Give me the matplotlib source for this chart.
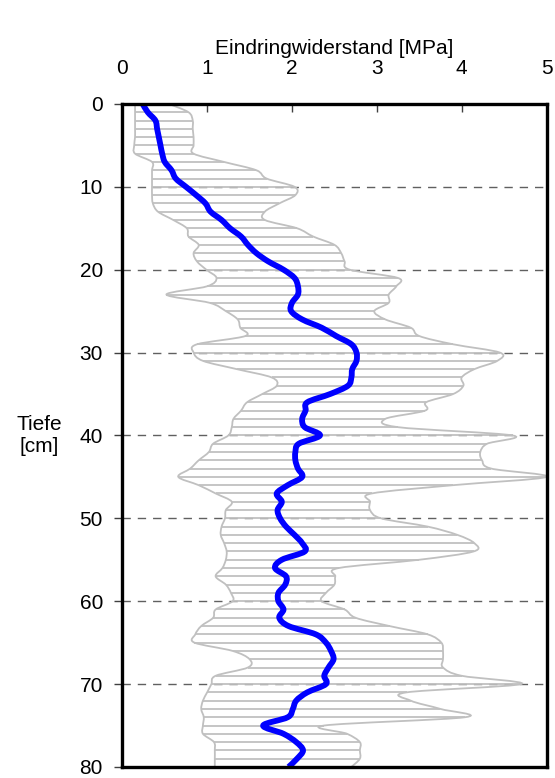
import numpy as np
import matplotlib
matplotlib.use("Agg")
import matplotlib.pyplot as plt
from matplotlib.path import Path
from matplotlib.patches import PathPatch

plt.rcParams['font.family'] = ['Liberation Sans', 'DejaVu Sans']

# Depth below surface [cm], one reading per centimetre
depth = np.arange(0, 81)

# Mean penetration resistance [MPa]
mean_resistance = [
    0.24, 0.30, 0.39, 0.41, 0.43, 0.45, 0.47, 0.50, 0.58, 0.63,
    0.75, 0.87, 0.98, 1.04, 1.17, 1.27, 1.40, 1.48, 1.58, 1.72,
    1.90, 2.03, 2.07, 2.07, 2.00, 1.99, 2.12, 2.35, 2.52, 2.70,
    2.76, 2.76, 2.71, 2.70, 2.66, 2.45, 2.18, 2.16, 2.12, 2.15,
    2.33, 2.08, 2.04, 2.04, 2.07, 2.12, 1.95, 1.82, 1.88, 1.83,
    1.86, 1.93, 2.03, 2.12, 2.15, 1.88, 1.80, 1.93, 1.92, 1.84,
    1.84, 1.90, 1.85, 1.96, 2.28, 2.40, 2.46, 2.49, 2.43, 2.38,
    2.40, 2.18, 2.05, 2.01, 1.95, 1.66, 1.90, 2.05, 2.13, 2.06,
    1.96,
]

# Lowest single reading per depth [MPa]
min_resistance = [
    0.15, 0.15, 0.15, 0.15, 0.15, 0.14, 0.15, 0.35, 0.35, 0.35,
    0.35, 0.35, 0.36, 0.42, 0.60, 0.76, 0.78, 0.90, 0.84, 0.88,
    0.99, 1.11, 1.00, 0.52, 1.03, 1.22, 1.36, 1.39, 1.45, 0.88,
    0.84, 0.95, 1.35, 1.76, 1.82, 1.65, 1.47, 1.40, 1.31, 1.29,
    1.25, 1.07, 1.02, 0.90, 0.80, 0.66, 0.90, 1.10, 1.29, 1.22,
    1.21, 1.17, 1.16, 1.20, 1.23, 1.22, 1.18, 1.10, 1.22, 1.28,
    1.30, 1.10, 1.07, 0.93, 0.86, 0.85, 1.30, 1.50, 1.48, 1.10,
    1.05, 1.00, 0.95, 0.93, 0.96, 0.95, 0.95, 1.08, 1.09, 1.09,
    1.09,
]

# Highest single reading per depth [MPa]
max_resistance = [
    0.55, 0.78, 0.83, 0.83, 0.84, 0.84, 0.84, 1.20, 1.58, 1.70,
    2.03, 2.04, 1.85, 1.68, 1.68, 2.06, 2.25, 2.50, 2.58, 2.62,
    2.68, 3.25, 3.23, 3.14, 3.14, 2.97, 3.10, 3.40, 3.50, 3.90,
    4.45, 4.42, 4.15, 4.00, 4.02, 3.90, 3.58, 3.57, 3.10, 3.25,
    4.60, 4.30, 4.22, 4.24, 4.35, 5.00, 3.90, 2.94, 2.92, 2.92,
    3.05, 3.60, 3.95, 4.15, 4.14, 3.50, 2.55, 2.51, 2.50, 2.40,
    2.35, 2.62, 2.75, 3.15, 3.60, 3.76, 3.78, 3.78, 3.78, 4.00,
    4.70, 3.35, 3.40, 3.75, 4.04, 2.38, 2.65, 2.80, 2.80, 2.80,
    2.70,
]

x_ticks = [0, 1, 2, 3, 4, 5]
y_ticks = [0, 10, 20, 30, 40, 50, 60, 70, 80]
grid_depths = [10, 20, 30, 40, 50, 60, 70]


def smooth_path(xs, ys):
    """Cubic Bezier path passing through every (x, y) point (Catmull-Rom style)."""
    p = np.column_stack([xs, ys]).astype(float)
    n = len(p)
    verts = [p[0]]
    codes = [Path.MOVETO]
    for i in range(n - 1):
        p0 = p[i - 1] if i > 0 else p[i]
        p1 = p[i]
        p2 = p[i + 1]
        p3 = p[i + 2] if i + 2 < n else p[i + 1]
        c1 = p1 + (p2 - p0) / 6.0
        c2 = p2 - (p3 - p1) / 6.0
        verts += [c1, c2, p2]
        codes += [Path.CURVE4] * 3
    return Path(verts, codes)


fig = plt.figure(figsize=(5.55, 7.78), dpi=100)
ax = fig.add_axes([0.2204, 0.0142, 0.7643, 0.8522])

gray = '#C0C0C0'
for g in grid_depths:
    ax.axhline(g, color='#606060', lw=1.0, ls=(0, (6, 5)), zorder=1)

# Range of single readings: one bar per depth plus the outline
ax.hlines(depth, min_resistance, max_resistance, color=gray, lw=1.3, zorder=2)
for env in (min_resistance, max_resistance):
    ax.add_patch(PathPatch(smooth_path(env, depth), facecolor='none',
                           edgecolor=gray, lw=1.3, zorder=2))

# Mean profile
ax.add_patch(PathPatch(smooth_path(mean_resistance, depth), facecolor='none',
                       edgecolor='#0000FF', lw=4.2, capstyle='butt',
                       joinstyle='round', zorder=3))

ax.set_xlim(0, 5)
ax.set_ylim(80, 0)
ax.set_xticks(x_ticks)
ax.set_yticks(y_ticks)

ax.xaxis.tick_top()
ax.xaxis.set_label_position('top')
ax.tick_params(axis='x', direction='in', length=6, width=1.0,
               color='#404040', pad=18.5, labelsize=15)
ax.tick_params(axis='y', direction='out', length=6, width=1.0,
               color='#404040', pad=8, labelsize=15)

for s in ax.spines.values():
    s.set_linewidth(2.4)
    s.set_color('black')
    s.set_zorder(4)

ax.set_xlabel('Eindringwiderstand [MPa]', fontsize=15, labelpad=4)
ax.set_ylabel('Tiefe\n[cm]', fontsize=15, rotation=0, ha='center', va='center')
ax.yaxis.set_label_coords(-0.196, 0.5)

fig.savefig('out.png', dpi=100)
